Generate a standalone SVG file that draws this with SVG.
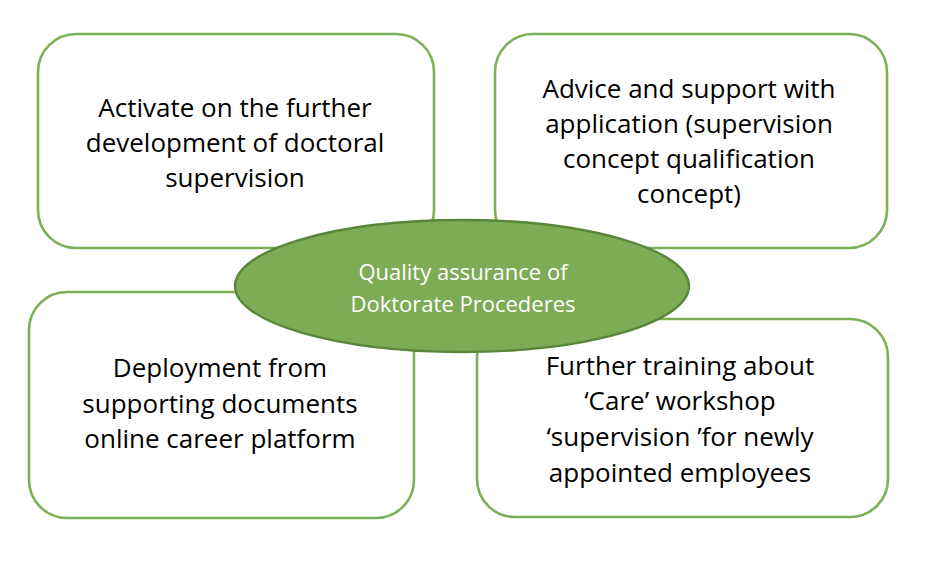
<svg xmlns="http://www.w3.org/2000/svg" width="940" height="578" viewBox="0 0 940 578">
<style>
.box{fill:#ffffff;stroke:#7DAF57;stroke-width:2.6}
.bt{font-family:"Open Sans","Liberation Sans",sans-serif;font-size:26px;fill:#000000;text-anchor:middle}
.ct{font-family:"Open Sans","Liberation Sans",sans-serif;font-size:22px;fill:#ffffff;text-anchor:middle}
.hub{fill:#7DAB56;stroke:#58863A;stroke-width:2.4}
</style>
<rect width="940" height="578" fill="#ffffff"/>
<g id="connectors"></g>
<g id="node-tl">
<rect class="box" x="38" y="34" width="396" height="214" rx="38" ry="38"/>
<text class="bt" x="235" y="117">Activate on the further</text>
<text class="bt" x="235" y="152">development of doctoral</text>
<text class="bt" x="235" y="187">supervision</text>
</g>
<g id="node-tr">
<rect class="box" x="495" y="34" width="392" height="214" rx="38" ry="38"/>
<text class="bt" x="689" y="98">Advice and support with</text>
<text class="bt" x="689" y="133">application (supervision</text>
<text class="bt" x="689" y="168">concept qualification</text>
<text class="bt" x="689" y="203">concept)</text>
</g>
<g id="node-bl">
<rect class="box" x="29" y="292" width="385" height="226" rx="38" ry="38"/>
<text class="bt" x="220" y="377">Deployment from</text>
<text class="bt" x="220" y="413">supporting documents</text>
<text class="bt" x="220" y="448">online career platform</text>
</g>
<g id="node-br">
<rect class="box" x="477" y="319" width="411" height="198" rx="38" ry="38"/>
<text class="bt" x="680" y="375">Further training about</text>
<text class="bt" x="680" y="410">‘Care’ workshop</text>
<text class="bt" x="680" y="446">‘supervision ’for newly</text>
<text class="bt" x="680" y="482">appointed employees</text>
</g>
<g id="node-center">
<ellipse class="hub" cx="462" cy="286" rx="227" ry="66"/>
<text class="ct" x="463" y="280">Quality assurance of</text>
<text class="ct" x="463" y="312">Doktorate Procederes</text>
</g>
</svg>
